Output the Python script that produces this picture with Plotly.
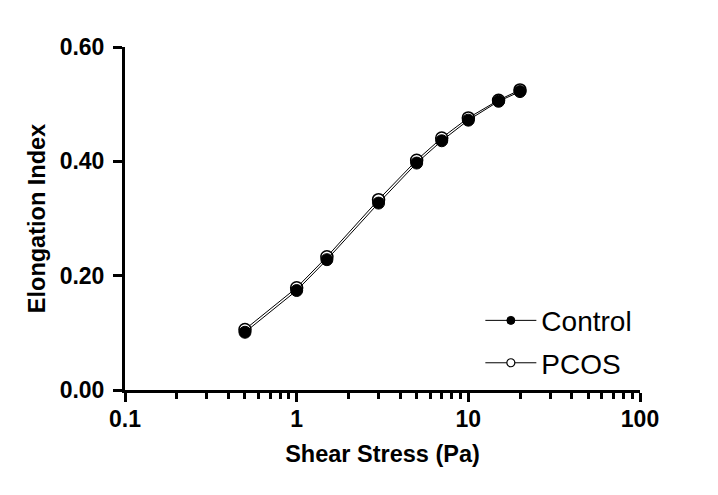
import plotly.graph_objects as go

shear_stress = [0.5, 1, 1.5, 3, 5, 7, 10, 15, 20]
control = [0.101, 0.174, 0.228, 0.327, 0.397, 0.436, 0.472, 0.505, 0.522]
pcos = [0.106, 0.179, 0.233, 0.333, 0.402, 0.441, 0.476, 0.507, 0.525]
x_tickvals = [0.1, 1, 10, 100]
x_ticktext = ["0.1", "1", "10", "100"]
y_tickvals = [0.0, 0.2, 0.4, 0.6]
y_ticktext = ["0.00", "0.20", "0.40", "0.60"]

fig = go.Figure()
fig.add_trace(go.Scatter(
    x=shear_stress, y=pcos, mode="lines+markers", name="PCOS", showlegend=False,
    line=dict(color="black", width=1),
    marker=dict(symbol="circle", size=12, color="white", line=dict(color="black", width=1.5)),
))
fig.add_trace(go.Scatter(
    x=shear_stress, y=control, mode="lines+markers", name="Control", showlegend=False,
    line=dict(color="black", width=1),
    marker=dict(symbol="circle", size=12, color="black", line=dict(color="black", width=1)),
))
# legend entries
fig.add_trace(go.Scatter(
    x=[None], y=[None], mode="lines+markers", name="Control", legendgroup="a",
    line=dict(color="black", width=1),
    marker=dict(symbol="circle", size=8, color="black", line=dict(color="black", width=1)),
))
fig.add_trace(go.Scatter(
    x=[None], y=[None], mode="lines+markers", name="PCOS", legendgroup="b",
    line=dict(color="black", width=1),
    marker=dict(symbol="circle", size=8, color="white", line=dict(color="black", width=1.2)),
))

font_family = "Liberation Sans, Arial, sans-serif"
fig.update_layout(
    width=718, height=495,
    margin=dict(l=117, r=86, t=39, b=113),
    paper_bgcolor="white", plot_bgcolor="white",
    font=dict(family=font_family, color="black"),
    legend=dict(x=0.69, y=0.275, xanchor="left", yanchor="top",
                font=dict(size=28, family=font_family, color="black"),
                bgcolor="rgba(0,0,0,0)", tracegroupgap=3, itemwidth=51),
    xaxis=dict(
        type="log", range=[-1, 2],
        tickvals=x_tickvals, ticktext=x_ticktext,
        tickfont=dict(size=23, family=font_family, weight="bold"),
        title=dict(text="<b>Shear Stress (Pa)</b>", font=dict(size=23.5), standoff=15),
        showline=True, linewidth=3, linecolor="black",
        ticks="outside", ticklen=9, tickwidth=3, tickcolor="black",
        ticklabelstandoff=-3,
        minor=dict(ticks="outside", ticklen=6, tickwidth=3, tickcolor="black", dtick="D1", showgrid=False),
        showgrid=False, zeroline=False,
    ),
    yaxis=dict(
        range=[0, 0.6],
        tickvals=y_tickvals, ticktext=y_ticktext,
        tickfont=dict(size=23, family=font_family, weight="bold"),
        title=dict(text="<b>Elongation Index</b>", font=dict(size=23.5), standoff=8),
        showline=True, linewidth=3, linecolor="black",
        ticks="outside", ticklen=9, tickwidth=3, tickcolor="black",
        ticklabelstandoff=4,
        showgrid=False, zeroline=False,
    ),
)

fig.write_html("out.html")
